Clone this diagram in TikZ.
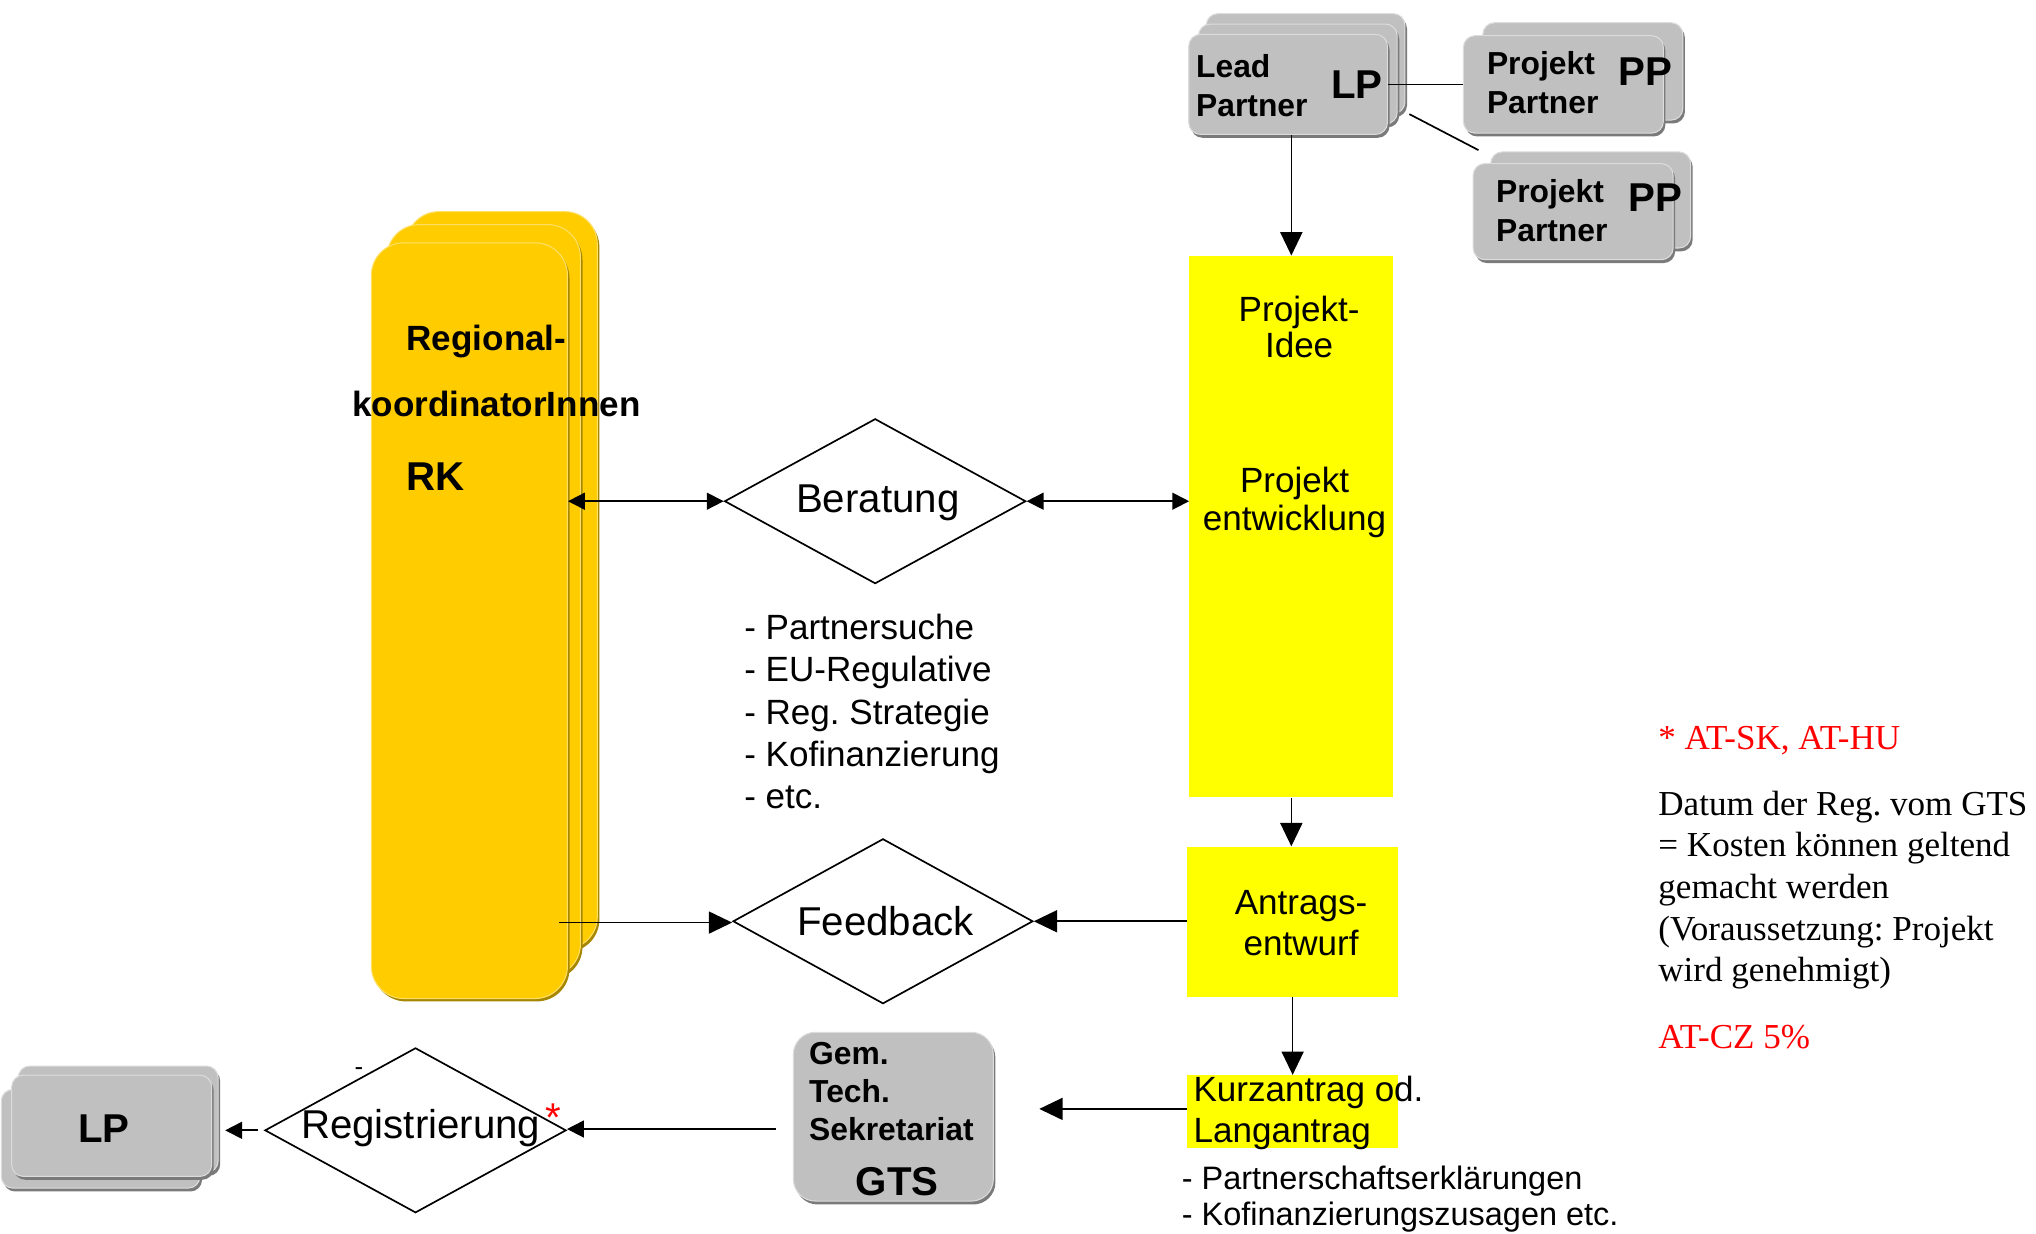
\documentclass[tikz,border=0pt]{standalone}
\usepackage{fontspec}
\setmainfont{Liberation Serif}
\setsansfont{Liberation Sans}
\usetikzlibrary{arrows.meta,shapes.geometric,calc}
\definecolor{rkyel}{HTML}{FFCC00}
\definecolor{rkdark}{HTML}{A88700}
\definecolor{rklight}{HTML}{FFE066}
\definecolor{gfill}{HTML}{C0C0C0}
\definecolor{gdark}{HTML}{7A7A7A}
\definecolor{glight}{HTML}{DCDCDC}
\definecolor{yel}{HTML}{FFFF00}
\definecolor{redtxt}{HTML}{FF0000}
\frenchspacing
\begin{document}
\begin{tikzpicture}[x=1pt,y=-1pt,
  gbox/.style={rectangle, rounded corners=#1, fill=gfill, draw=glight, line width=0.8pt, inner sep=0pt,
     preaction={fill=gdark, transform canvas={xshift=1.6pt,yshift=-2.6pt}}},
  gbox/.default=9pt,
  rkbox/.style={rectangle, rounded corners=25pt, fill=rkyel, draw=rklight, line width=0.8pt, inner sep=0pt,
     preaction={fill=rkdark, transform canvas={xshift=1.6pt,yshift=-2.2pt}}},
  ybox/.style={rectangle, fill=yel, inner sep=0pt},
  dia/.style={diamond, draw=black, line width=1.3pt, inner sep=0pt},
  conn/.style={draw=black, line width=1.3pt},
  arrbig/.style={conn, -{Triangle[length=18pt,width=17pt]}},
  arrsmall/.style={conn, -{Triangle[length=13pt,width=13pt]}},
  arrboth/.style={conn, {Triangle[length=13pt,width=13pt]}-{Triangle[length=13pt,width=13pt]}},
  tsans/.style={inner sep=0pt, font=\sffamily\fontsize{27}{32.5}\selectfont},
  tdia/.style={inner sep=0pt, font=\sffamily\fontsize{31}{36}\selectfont},
  tbold/.style={inner sep=0pt, font=\sffamily\bfseries\fontsize{24.5}{30}\selectfont},
  tboldbig/.style={inner sep=0pt, font=\sffamily\bfseries\fontsize{31}{36}\selectfont},
  tserif/.style={inner sep=0pt, font=\rmfamily\fontsize{27}{32}\selectfont},
]
\useasboundingbox (0,0) rectangle (1568,949.6);
\fill[white] (0,0) rectangle (1568,949.6);

% ---- top Lead Partner stack
\node[gbox, minimum width=153pt, minimum height=77pt] (lpB) at (1005.5,49) {};
\node[gbox, minimum width=153pt, minimum height=77pt] (lpM) at (999.5,57) {};
\node[gbox, minimum width=153pt, minimum height=77pt] (lp) at (992,65) {};
\node[tbold, anchor=west, align=left] (lpt) at (921,66) {Lead\\Partner};
\node[tboldbig] (lpl) at (1045,65) {LP};

% ---- Projekt Partner 1
\node[gbox, minimum width=154pt, minimum height=75pt] (pp1B) at (1219,55) {};
\node[gbox, minimum width=154pt, minimum height=75pt] (pp1) at (1204,65) {};
\node[tbold, anchor=west, align=left] (pp1t) at (1145,63.5) {Projekt\\Partner};
\node[tboldbig] (pp1l) at (1267.5,55) {PP};

% ---- Projekt Partner 2
\node[gbox, minimum width=154pt, minimum height=74pt] (pp2B) at (1225,154) {};
\node[gbox, minimum width=154pt, minimum height=74pt] (pp2) at (1211.5,163) {};
\node[tbold, anchor=west, align=left] (pp2t) at (1152,162.5) {Projekt\\Partner};
\node[tboldbig] (pp2l) at (1275,152) {PP};

% ---- RK stack
\node[rkbox, minimum width=147pt, minimum height=568pt] (rkB) at (386.5,447) {};
\node[rkbox, minimum width=149pt, minimum height=579pt] (rkM) at (372.5,462.5) {};
\node[rkbox, minimum width=151pt, minimum height=582pt] (rk) at (361.5,478) {};
\node[inner sep=0pt, font=\sffamily\bfseries\fontsize{27}{32}\selectfont, anchor=west] (rkt1) at (313,263) {Regional-};
\node[inner sep=0pt, font=\sffamily\bfseries\fontsize{27}{32}\selectfont, anchor=west] (rkt2) at (271,311) {koordinatorInnen};
\node[tboldbig, anchor=west] (rkt3) at (313,367) {RK};

% ---- yellow boxes
\node[ybox, minimum width=157pt, minimum height=417pt] (idee) at (994.5,405.5) {};
\node[inner sep=0pt, align=center, font=\sffamily\fontsize{27}{28}\selectfont] (ideet) at (1000.5,252) {Projekt-\\Idee};
\node[inner sep=0pt, align=center, font=\sffamily\fontsize{27}{29}\selectfont] (entwt) at (997,387) {Projekt\\entwicklung};

\node[ybox, minimum width=163pt, minimum height=116pt] (antr) at (995.5,710) {};
\node[inner sep=0pt, align=center, font=\sffamily\fontsize{27}{31.5}\selectfont] (antrt) at (1002,711) {Antrags-\\entwurf};

\node[ybox, minimum width=163pt, minimum height=56pt] (kurz) at (995.5,856) {};
\node[inner sep=0pt, align=left, anchor=west, font=\sffamily\fontsize{27}{32}\selectfont] (kurzt) at (919,857) {Kurzantrag od.\\Langantrag};
\node[inner sep=0pt, align=left, anchor=west, font=\sffamily\fontsize{25}{27.5}\selectfont] (kurzl) at (910,923.5) {- Partnerschaftserkl\"arungen\\- Kofinanzierungszusagen etc.};

% ---- diamonds
\node[dia, minimum width=232pt, minimum height=127pt] (ber) at (674,386) {};
\node[tdia] (bert) at (676,387.5) {Beratung};
\node[tsans, anchor=west, align=left] (berl) at (573,548) {- Partnersuche\\- EU-Regulative\\- Reg. Strategie\\- Kofinanzierung\\- etc.};

\node[dia, minimum width=231pt, minimum height=127pt] (feed) at (680,709.5) {};
\node[tdia] (feedt) at (682,709) {Feedback};

\node[dia, minimum width=232pt, minimum height=127pt] (reg) at (320,870.5) {};
\node[tdia] (regt) at (324,868.5) {Registrierung};
\node[tdia, text=redtxt] (regstar) at (426,861) {*};
\node[inner sep=0pt, font=\sffamily\fontsize{20}{24}\selectfont] (regdash) at (276.5,825) {-};

% ---- GTS
\node[gbox=17pt, minimum width=154pt, minimum height=130pt] (gts) at (688,860) {};
\node[tbold, anchor=west, align=left, font=\sffamily\bfseries\fontsize{24.5}{29.5}\selectfont] (gtst) at (623,840.5) {Gem.\\Tech.\\Sekretariat};
\node[tboldbig] (gtsl) at (691,910) {GTS};

% ---- LP bottom stack
\node[gbox, minimum width=154pt, minimum height=82pt] (lpbB) at (91,862) {};
\node[gbox, minimum width=153pt, minimum height=76pt] (lpbL) at (77.5,877) {};
\node[gbox, minimum width=154pt, minimum height=78pt] (lpb) at (86,867) {};
\node[tboldbig] (lpbl) at (80,869) {LP};

% ---- right text block
\node[tserif, anchor=west, text=redtxt] (note1) at (1277,570.5) {* AT-SK, AT-HU};
\node[tserif, anchor=west, align=left] (note2) at (1277,685.5) {Datum der Reg. vom GTS\\= Kosten k\"onnen geltend\\gemacht werden\\(Voraussetzung: Projekt\\wird genehmigt)};
\node[tserif, anchor=west, text=redtxt] (note3) at (1277,798.5) {AT-CZ 5\%};

% ---- connectors
\draw[conn] (lp.east) -- (pp1.west);
\draw[conn] ($(lpB.south east)+(3,0)$) -- ($(pp2B.north west)+(-9,-1)$);
\draw[arrbig] (idee.north |- lp.south) -- (idee.north);
\draw[arrboth] (rk.east |- ber.west) -- (ber.west);
\draw[arrboth] (ber.east) -- (ber.east -| idee.west);
\draw[arrbig] (idee.south) -- (idee.south |- antr.north);
\draw[arrbig] (antr.west |- feed.east) -- (feed.east);
\draw[arrbig] ($(rk.east |- feed.west)+(-7,1)$) -- ($(feed.west)+(0,1)$);
\draw[arrbig] (antr.south) -- (kurz.north);
\draw[arrbig] ($(kurz.west)+(0,-2)$) -- ($(gts.east |- kurz.west)+(35,-2)$);
\draw[arrsmall] ($(gts.west |- reg.east)+(-13,-1)$) -- ($(reg.east)+(0,-1)$);
\draw[arrsmall] ($(reg.west)+(-5,0)$) -- ($(lpb.east |- reg.west)+(10,0)$);
\end{tikzpicture}
\end{document}
